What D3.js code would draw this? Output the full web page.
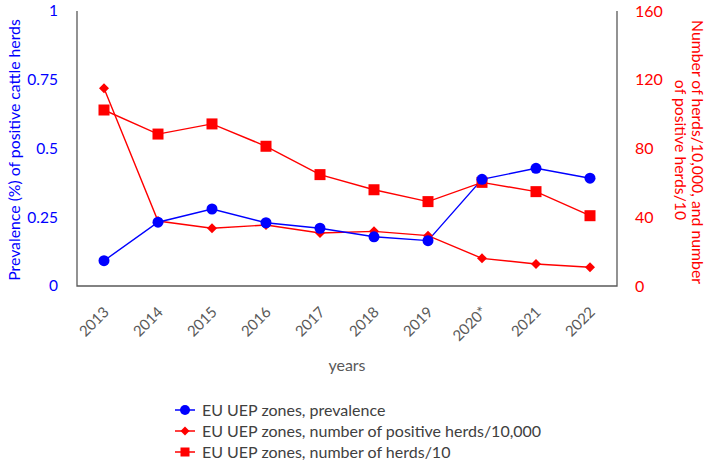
<!DOCTYPE html>
<html><head><meta charset="utf-8">
<script src="https://cdn.jsdelivr.net/npm/d3@7/dist/d3.min.js"></script>
<style>
body{margin:0;background:#fff;}
svg{display:block;font-family:Lato,"Open Sans",sans-serif;}
</style></head>
<body><svg id="c" width="709" height="470"></svg>
<script>
const years = ["2013","2014","2015","2016","2017","2018","2019","2020*","2021","2022"];
const prevalence = [0.092,0.232,0.28,0.23,0.21,0.179,0.165,0.388,0.428,0.392];
const positivePer10000 = [115,37.8,33.6,35.5,30.8,31.8,29.3,16.1,12.8,10.9];
const herdsPer10 = [102.4,88.4,94.3,81.3,64.8,56,49.1,60.3,54.9,40.9];
const leftTicks = [0,0.25,0.5,0.75,1];
const rightTicks = [0,40,80,120,160];
const seriesNames = ["EU UEP zones, prevalence","EU UEP zones, number of positive herds/10,000","EU UEP zones, number of herds/10"];

const BLUE="#0000ff", RED="#ff0000", AX="#595959";
const svg=d3.select("#c");
const L=77, R=617, T=11, B=286;
const x=d3.scaleBand().domain(years).range([L,R]);
const yL=d3.scaleLinear().domain([0,1]).range([B,T]);
const yR=d3.scaleLinear().domain([0,160]).range([B,T]);
const cx=d=>x(d)+x.bandwidth()/2;

svg.append("path").attr("d",`M${L},${T}V${B}H${R}V${T}`).attr("fill","none").attr("stroke",AX).attr("stroke-width",1.3);

const la=svg.append("g").attr("transform",`translate(${L},0)`)
 .call(d3.axisLeft(yL).tickValues(leftTicks).tickSize(0).tickPadding(19).tickFormat(d=>String(d)));
la.select(".domain").remove();
la.selectAll("text").attr("fill",BLUE).style("font-size","15.5px").style("font-family","Lato");

const ra=svg.append("g").attr("transform",`translate(${R},0)`)
 .call(d3.axisRight(yR).tickValues(rightTicks).tickSize(0).tickPadding(18));
ra.select(".domain").remove();
ra.selectAll("text").attr("fill",RED).style("font-size","16px").style("font-family","Lato");

const xa=svg.append("g").attr("transform",`translate(0,${B})`).call(d3.axisBottom(x).tickSize(0));
xa.select(".domain").remove();
xa.selectAll("text").attr("fill",AX).style("font-size","15px").style("font-family","Lato")
 .attr("text-anchor","end").attr("dy",0).attr("y",0)
 .attr("transform","translate(6,27) rotate(-45)");

svg.append("text").attr("x",(L+R)/2).attr("y",371).attr("text-anchor","middle")
 .attr("fill",AX).style("font-size","16px").text("years");

svg.append("text").attr("transform",`translate(20,150) rotate(-90)`).attr("text-anchor","middle")
 .attr("fill",BLUE).style("font-size","15.8px").text("Prevalence (%) of positive cattle herds");
svg.append("text").attr("transform",`translate(692,152) rotate(90)`).attr("text-anchor","middle")
 .attr("fill",RED).style("font-size","15.8px").text("Number of herds/10,000, and number");
svg.append("text").attr("transform",`translate(675,150) rotate(90)`).attr("text-anchor","middle")
 .attr("fill",RED).style("font-size","15.8px").text("of positive herds/10");

function line(vals,ys,col){
  svg.append("path").datum(vals).attr("fill","none").attr("stroke",col).attr("stroke-width",1.4)
   .attr("d",d3.line().x((d,i)=>cx(years[i])).y(d=>ys(d)));
}
line(herdsPer10,yR,RED);
line(positivePer10000,yR,RED);
line(prevalence,yL,BLUE);

function square(sel,s){sel.append("rect").attr("x",-s/2).attr("y",-s/2).attr("width",s).attr("height",s).attr("fill",RED);}
function diamond(sel,s){sel.append("path").attr("d",`M0,${-s}L${s},0L0,${s}L${-s},0Z`).attr("fill",RED);}
function circle(sel,r){sel.append("circle").attr("r",r).attr("fill",BLUE);}

herdsPer10.forEach((v,i)=>{square(svg.append("g").attr("transform",`translate(${cx(years[i])},${yR(v)})`),11);});
positivePer10000.forEach((v,i)=>{diamond(svg.append("g").attr("transform",`translate(${cx(years[i])},${yR(v)})`),5);});
prevalence.forEach((v,i)=>{circle(svg.append("g").attr("transform",`translate(${cx(years[i])},${yL(v)})`),5.5);});

const leg=[{c:BLUE,m:"c"},{c:RED,m:"d"},{c:RED,m:"s"}];
leg.forEach((l,i)=>{
  const yy=410+i*21;
  const gg=svg.append("g").attr("transform",`translate(185,${yy})`);
  gg.append("line").attr("x1",-10).attr("x2",10).attr("stroke",l.c).attr("stroke-width",1.5);
  if(l.m==="c")circle(gg,5);else if(l.m==="d")diamond(gg,4.5);else square(gg,9);
  svg.append("text").attr("x",202).attr("y",yy).attr("dy","0.35em").attr("fill","#404040")
   .style("font-size","16px").text(seriesNames[i]);
});
</script></body></html>
